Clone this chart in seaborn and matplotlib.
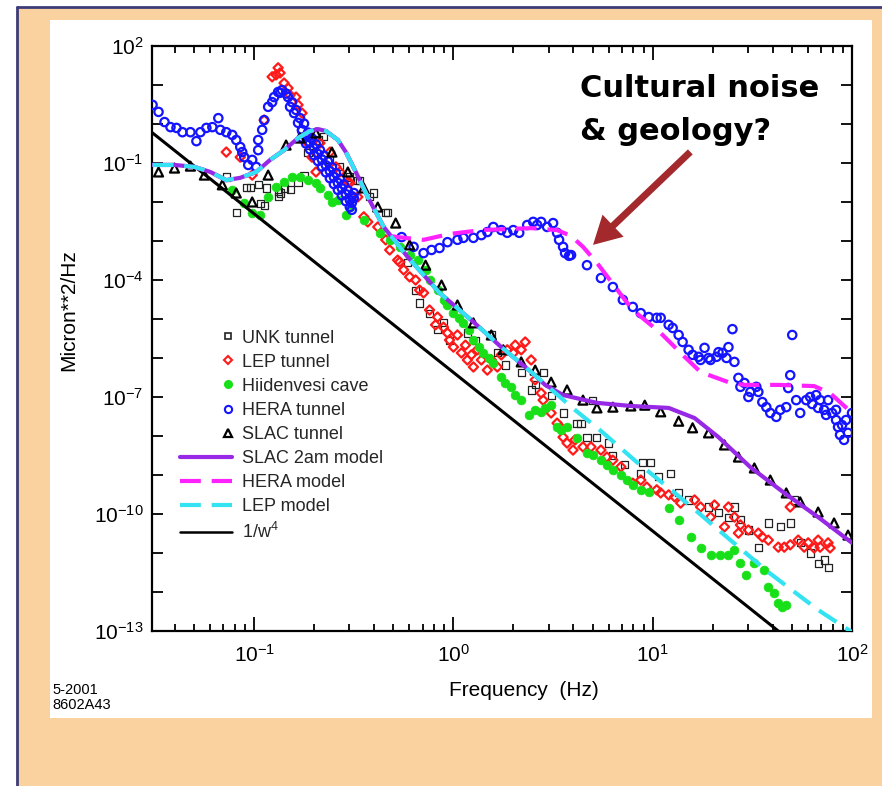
import numpy as np
import matplotlib
matplotlib.use("Agg")
import matplotlib.pyplot as plt
import seaborn as sns
from matplotlib.lines import Line2D
from matplotlib.patches import Rectangle
from matplotlib.legend_handler import HandlerLine2D
from matplotlib.ticker import FixedLocator, LogFormatterSciNotation, LogLocator, NullFormatter

# ---------------- data (log10 of frequency [Hz] and of PSD [micron^2/Hz]) -------------
unk_lf = [-1.14,-1.09,-1.04,-1.02,-0.98,-0.97,-0.95,-0.94,-0.88,-0.88,-0.87,-0.85,-0.82,-0.78,-0.75,
          -0.73,-0.68,-0.65,-0.62,-0.57,-0.52,-0.48,-0.47,-0.42,-0.40,-0.34,-0.33,-0.23,-0.19,-0.17,
          -0.12,-0.08,-0.05,-0.02,0.07,0.11,0.19,0.22,0.26,0.34,0.39,0.41,0.45,0.49,0.55,
          0.62,0.64,0.67,0.70,0.72,0.78,0.80,0.86,0.94,0.95,0.99,1.03,1.09,1.13,1.18,
          1.28,1.33,1.38,1.41,1.44,1.48,1.53,1.58,1.64,1.69,1.71,1.74,1.79,1.83,1.86,1.88]
unk_lp = [-1.36,-2.28,-1.62,-1.62,-1.56,-2.03,-2.08,-1.64,-1.74,-1.87,-1.77,-1.64,-1.69,-1.51,-1.31,
          -0.74,-0.41,-0.33,-0.92,-1.10,-1.36,-1.44,-1.44,-1.87,-1.77,-2.26,-2.28,-3.56,-4.26,-4.59,
          -4.85,-5.28,-5.10,-5.54,-5.36,-5.54,-5.41,-5.87,-6.18,-6.38,-6.82,-6.69,-6.38,-6.95,-7.41,
          -7.67,-7.67,-8.03,-7.08,-8.03,-8.18,-8.49,-8.74,-8.95,-8.69,-8.69,-9.05,-8.95,-9.44,-9.64,
          -9.82,-9.97,-10.08,-9.82,-10.15,-10.41,-10.85,-10.23,-10.33,-10.23,-9.64,-10.74,-11.00,-11.26,-11.18,-11.38]

lep_lf = [-1.14,-1.07,-1.01,-0.95,-0.91,-0.89,-0.88,-0.87,-0.85,-0.83,
          -0.82,-0.79,-0.78,-0.76,-0.73,-0.71,-0.69,-0.67,-0.62,-0.59,
          -0.57,-0.53,-0.52,-0.48,-0.45,-0.43,-0.38,-0.34,-0.32,-0.28,
          -0.27,-0.25,-0.22,-0.19,-0.17,-0.15,-0.12,-0.09,-0.08,-0.05,
          -0.03,-0.02,0.00,0.02,0.04,0.06,0.07,0.09,0.10,0.12,
          0.14,0.17,0.19,0.22,0.24,0.27,0.30,0.31,0.34,0.36,
          0.39,0.41,0.44,0.45,0.49,0.52,0.54,0.55,0.57,0.60,
          0.61,0.65,0.69,0.74,0.77,0.80,0.84,0.90,0.94,0.97,
          1.02,1.04,1.08,1.11,1.14,1.21,1.24,1.29,1.31,1.36,
          1.38,1.41,1.43,1.44,1.48,1.53,1.55,1.58,1.63,1.66,
          1.69,1.69,1.73,1.76,1.78,1.81,1.83,1.84,1.88,1.89]
lep_lp = [-0.72,-0.85,-1.31,0.10,1.21,1.26,1.44,1.31,1.05,0.92,
          0.74,0.69,0.49,0.28,-0.49,-0.85,-1.23,-0.49,-0.72,-1.10,
          -1.23,-1.49,-1.51,-1.87,-2.38,-2.51,-2.64,-2.97,-3.23,-3.49,
          -3.54,-3.74,-3.92,-4.00,-4.26,-4.33,-4.77,-5.15,-4.95,-5.21,
          -5.36,-5.54,-5.72,-5.41,-5.87,-5.67,-6.05,-5.92,-6.23,-5.79,
          -6.05,-6.31,-6.05,-6.23,-5.92,-5.79,-5.87,-5.67,-5.79,-5.59,
          -6.05,-6.56,-6.90,-7.08,-7.41,-7.67,-7.79,-8.03,-8.18,-8.36,
          -8.10,-8.28,-8.28,-8.36,-8.54,-8.62,-8.79,-9.21,-9.13,-9.31,
          -9.38,-9.46,-9.51,-9.56,-9.72,-9.64,-9.82,-10.08,-9.77,-10.33,
          -9.82,-10.08,-10.49,-10.28,-10.41,-10.49,-10.59,-10.67,-10.85,-10.85,
          -9.82,-10.79,-10.67,-10.85,-10.74,-10.87,-10.67,-10.85,-10.74,-10.87]

hii_lf = [-1.11,-1.05,-1.01,-0.97,-0.93,-0.89,-0.85,-0.81,-0.77,-0.73,
          -0.69,-0.67,-0.63,-0.61,-0.58,-0.54,-0.52,-0.45,-0.37,-0.32,
          -0.27,-0.22,-0.18,-0.14,-0.12,-0.08,-0.05,-0.03,0.00,0.03,
          0.05,0.08,0.10,0.13,0.15,0.18,0.20,0.24,0.26,0.29,
          0.31,0.34,0.38,0.41,0.44,0.46,0.49,0.52,0.54,0.57,
          0.62,0.67,0.70,0.74,0.77,0.80,0.84,0.87,0.90,0.94,
          0.98,1.08,1.13,1.19,1.24,1.29,1.34,1.38,1.41,1.44,
          1.47,1.51,1.56,1.58,1.61,1.63,1.65,1.67]
hii_lp = [-1.69,-2.03,-2.28,-2.33,-1.87,-1.62,-1.49,-1.36,-1.36,-1.44,
          -1.51,-1.64,-1.82,-2.00,-1.95,-2.33,-2.13,-2.46,-2.79,-2.97,
          -3.15,-3.36,-3.49,-3.74,-4.00,-4.26,-4.51,-4.64,-4.85,-4.97,
          -5.10,-5.28,-5.54,-5.72,-5.87,-6.00,-6.13,-6.49,-6.64,-6.74,
          -6.95,-7.08,-7.46,-7.33,-7.38,-7.28,-7.21,-7.77,-7.85,-7.77,
          -8.05,-8.44,-8.49,-8.62,-8.74,-8.87,-9.00,-9.13,-9.26,-9.38,
          -9.44,-9.85,-10.15,-10.59,-10.87,-11.05,-11.05,-11.05,-10.92,-11.26,
          -11.56,-11.26,-11.44,-11.87,-12.03,-12.28,-12.38,-12.33]

hera_lf = [-1.51,-1.48,-1.45,-1.42,-1.39,-1.36,-1.32,-1.29,-1.27,-1.24,
           -1.21,-1.18,-1.17,-1.14,-1.11,-1.09,-1.07,-1.06,-1.05,-1.03,
           -1.01,-0.99,-0.98,-0.98,-0.96,-0.95,-0.93,-0.90,-0.88,-0.86,
           -0.83,-0.82,-0.80,-0.78,-0.76,-0.73,
           -0.91,-0.87,-0.84,-0.81,-0.79,-0.77,
           -0.76,-0.74,-0.72,-0.70,-0.68,-0.66,-0.64,-0.62,-0.60,-0.58,-0.56,-0.54,-0.52,-0.51,
           -0.75,-0.73,-0.71,-0.69,-0.67,-0.65,-0.63,-0.61,-0.59,-0.57,-0.55,-0.53,-0.51,-0.50,
           -0.76,-0.74,-0.72,-0.70,-0.68,-0.66,-0.64,-0.62,-0.60,-0.58,-0.56,-0.54,-0.52,-0.51,
           -0.50,-0.26,-0.20,-0.15,-0.11,-0.07,-0.03,0.02,0.05,0.10,
           0.14,0.17,0.20,0.24,0.27,0.30,0.33,0.37,0.40,0.42,
           0.44,0.47,0.50,0.52,0.53,0.55,0.56,0.58,0.59,0.67,
           0.74,0.80,0.85,0.90,
           0.94,0.98,1.02,1.04,1.08,1.10,1.13,1.15,1.18,1.20,
           1.23,1.24,1.26,1.28,1.29,1.32,1.33,1.35,1.37,1.38,
           1.40,1.41,1.43,1.44,1.46,1.48,1.49,1.52,1.53,1.55,
           1.57,1.59,1.62,1.64,1.67,1.68,1.69,1.70,1.72,1.74,
           1.77,1.79,1.80,1.82,1.83,1.84,1.86,1.87,1.88,1.90,
           1.92,1.92,1.93,1.94,1.95,1.96,1.97,1.98,2.00]
hera_lp = [0.49,0.31,0.05,-0.08,-0.10,-0.21,-0.21,-0.44,-0.21,-0.10,
           -0.08,0.15,-0.15,-0.21,-0.28,-0.41,-0.59,-0.72,-0.85,-1.05,
           -0.92,-1.10,-0.67,-0.41,-0.15,0.10,0.44,0.69,0.82,0.87,
           0.69,0.44,0.28,0.03,-0.15,-0.33,
           0.56,0.80,0.78,0.56,0.36,0.15,
           -0.17,-0.32,-0.47,-0.62,-0.77,-0.91,-1.06,-1.21,-1.36,-1.51,-1.65,-1.80,-1.95,-2.02,
           0.01,-0.22,-0.37,-0.52,-0.67,-0.81,-0.96,-1.11,-1.26,-1.41,-1.55,-1.70,-1.85,-1.90,
           -0.35,-0.50,-0.65,-0.80,-0.95,-1.09,-1.24,-1.39,-1.54,-1.69,-1.83,-1.98,-2.13,-2.20,
           -1.77,-2.90,-3.15,-3.31,-3.23,-3.18,-3.03,-2.97,-2.92,-2.92,
           -2.85,-2.77,-2.64,-2.72,-2.79,-2.72,-2.79,-2.59,-2.51,-2.59,
           -2.51,-2.64,-2.54,-2.79,-2.97,-3.15,-3.31,-3.38,-3.36,-3.62,
           -3.95,-4.18,-4.51,-4.69,
           -4.85,-4.95,-4.97,-4.97,-5.15,-5.23,-5.41,-5.59,-5.79,-5.92,
           -5.97,-6.05,-5.74,-6.00,-6.05,-5.97,-5.85,-5.87,-6.00,-5.72,
           -5.26,-6.10,-6.51,-6.74,-6.64,-7.00,-6.87,-6.74,-6.87,-7.13,
           -7.26,-7.41,-7.51,-7.33,-7.26,-6.77,-6.44,-5.41,-7.08,-7.41,
           -7.08,-7.00,-7.18,-6.95,-7.28,-7.08,-7.33,-7.46,-7.08,-7.41,
           -7.59,-7.33,-7.77,-7.97,-7.72,-8.10,-7.59,-7.92,-7.41]

slac_lf = [-1.48,-1.40,-1.32,-1.25,-1.16,-1.09,-1.01,-0.93,-0.84,-0.77,
           -0.69,-0.61,-0.53,-0.45,-0.38,-0.29,-0.22,-0.14,-0.06,0.02,
           0.10,0.19,0.25,0.34,0.41,0.49,0.57,0.65,0.72,0.80,
           0.89,0.96,1.04,1.13,1.20,1.28,1.36,1.43,1.51,1.59,
           1.67,1.74,1.83,1.91,1.98]
slac_lp = [-1.23,-1.13,-1.08,-1.31,-1.56,-1.77,-2.00,-1.31,-0.54,-0.36,
           -0.23,-0.72,-1.23,-1.64,-2.13,-2.54,-3.10,-3.62,-4.13,-4.64,
           -5.10,-5.41,-5.79,-6.10,-6.31,-6.62,-6.82,-7.08,-7.28,-7.26,
           -7.23,-7.21,-7.38,-7.62,-7.79,-7.92,-8.23,-8.54,-8.82,-9.13,
           -9.46,-9.69,-9.95,-10.23,-10.54]

slac_model_lf = [-1.51,-1.40,-1.30,-1.22,-1.14,-1.07,-0.99,-0.92,-0.85,-0.78,-0.72,-0.68,-0.64,-0.58,
                 -0.54,-0.49,-0.43,-0.35,-0.23,-0.07,0.09,0.24,0.39,0.46,0.55,0.72,0.89,1.08,1.21,
                 1.33,1.49,1.66,1.83,2.00]
slac_model_lp = [-1.05,-1.05,-1.10,-1.23,-1.44,-1.38,-1.23,-0.92,-0.67,-0.36,-0.18,-0.13,-0.18,-0.41,
                 -0.72,-1.23,-1.87,-2.64,-3.41,-4.33,-5.03,-5.72,-6.36,-6.69,-6.95,-7.15,-7.23,-7.28,-7.54,
                 -8.03,-8.80,-9.46,-10.08,-10.74]

hera_model_lf = [-1.51,-1.40,-1.30,-1.22,-1.14,-1.07,-0.99,-0.92,-0.85,-0.78,-0.72,-0.68,-0.64,-0.58,
                 -0.54,-0.49,-0.43,-0.35,-0.32,-0.28,-0.15,-0.02,0.14,0.39,0.52,0.59,0.65,0.72,0.85,
                 0.90,1.04,1.16,1.24,1.38,1.46,1.63,1.81,1.89,2.00]
hera_model_lp = [-1.05,-1.05,-1.10,-1.23,-1.44,-1.38,-1.23,-0.92,-0.67,-0.36,-0.18,-0.13,-0.18,-0.41,
                 -0.72,-1.23,-1.87,-2.64,-2.87,-2.90,-2.97,-2.82,-2.72,-2.67,-2.72,-2.87,-3.15,-3.56,-4.44,
                 -4.77,-5.36,-5.97,-6.36,-6.62,-6.69,-6.69,-6.72,-6.90,-7.41]

lep_model_lf = [-1.51,-1.40,-1.30,-1.22,-1.14,-1.07,-0.99,-0.92,-0.85,-0.78,-0.72,-0.68,-0.64,-0.58,
                -0.54,-0.49,-0.43,-0.35,-0.23,-0.07,0.09,0.24,0.39,0.60,0.74,0.92,1.08,1.23,1.33,
                1.58,1.83,2.00]
lep_model_lp = [-1.05,-1.05,-1.10,-1.23,-1.44,-1.38,-1.23,-0.92,-0.67,-0.36,-0.18,-0.13,-0.18,-0.41,
                -0.72,-1.23,-1.87,-2.64,-3.41,-4.33,-5.03,-5.72,-6.36,-7.29,-7.87,-8.67,-9.33,-9.97,-10.41,
                -11.49,-12.46,-13.03]

w4_lf = [-1.51, 1.63]
w4_lp = [-0.23, -13.0]

labels = ["UNK tunnel", "LEP tunnel", "Hiidenvesi cave", "HERA tunnel", "SLAC tunnel",
          "SLAC 2am model", "HERA model", "LEP model", "1/w$^4$"]

# ---------------- styling ---------------------------------------------------------------
sns.set_theme(style="white")
plt.rcParams['font.family'] = ['Liberation Sans', 'DejaVu Sans']
plt.rcParams['mathtext.default'] = 'regular'

C_UNK, C_LEP, C_HII, C_HERA, C_SLAC = "#222222", "#FF1A1A", "#18E018", "#1414FF", "black"
C_SLACM, C_HERAM, C_LEPM = "#9628E6", "#FF22FF", "#33E3F2"
PEACH, NAVY, ARROW = "#FAD2A0", "#3C3C78", "#A3292D"

fig = plt.figure(figsize=(8.82, 7.86), dpi=100, facecolor="white")
W, H = 882.0, 786.0
fig.add_artist(Rectangle((17/W, 0), 1 - 17/W, 1 - 7/H, transform=fig.transFigure,
                         facecolor=PEACH, edgecolor="none", zorder=-5))
fig.add_artist(Line2D([17/W, 17/W], [0, 1 - 7/H], transform=fig.transFigure, color=NAVY, lw=2))
fig.add_artist(Line2D([17/W, 1], [1 - 7/H, 1 - 7/H], transform=fig.transFigure, color=NAVY, lw=2))
fig.add_artist(Rectangle((50/W, 1 - 718/H), (872 - 50)/W, (718 - 20)/H, transform=fig.transFigure,
                         facecolor="white", edgecolor="none", zorder=-4))

ax = fig.add_axes([152/W, 1 - 631/H, 700/W, 585/H])
ax.set_facecolor("white")
ax.set_xscale("log")
ax.set_yscale("log")

def scat(lf, lp, **kw):
    sns.scatterplot(x=10 ** np.array(lf), y=10 ** np.array(lp), ax=ax, legend=False, **kw)

scat(unk_lf, unk_lp, marker="s", s=26, facecolor="none", edgecolor=C_UNK, linewidth=0.9, zorder=3)
scat(lep_lf, lep_lp, marker="D", s=22, facecolor="none", edgecolor=C_LEP, linewidth=1.6, zorder=3)
scat(hii_lf, hii_lp, marker="o", s=40, facecolor=C_HII, edgecolor=C_HII, linewidth=0.5, zorder=3)
scat(hera_lf, hera_lp, marker="o", s=36, facecolor="none", edgecolor=C_HERA, linewidth=1.6, zorder=4)
scat(slac_lf, slac_lp, marker="^", s=42, facecolor="none", edgecolor=C_SLAC, linewidth=1.6, zorder=4)

def line(lf, lp, **kw):
    sns.lineplot(x=10 ** np.array(lf), y=10 ** np.array(lp), ax=ax, legend=False,
                 estimator=None, sort=False, **kw)

dash = (0, (5, 2.6))
line(slac_model_lf, slac_model_lp, color=C_SLACM, linewidth=3, zorder=5)
line(hera_model_lf, hera_model_lp, color=C_HERAM, linewidth=3, linestyle=dash, zorder=6)
line(lep_model_lf, lep_model_lp, color=C_LEPM, linewidth=3, linestyle=dash, zorder=7)
line(w4_lf, w4_lp, color="black", linewidth=2.2, zorder=5)

ax.set_xlim(0.0307, 100)
ax.set_ylim(1e-13, 1e2)

ax.xaxis.set_major_locator(LogLocator(base=10, numticks=20))
ax.xaxis.set_minor_locator(LogLocator(base=10, subs=np.arange(2, 10), numticks=20))
ax.xaxis.set_minor_formatter(NullFormatter())
ax.yaxis.set_major_locator(FixedLocator([1e2, 1e-1, 1e-4, 1e-7, 1e-10, 1e-13]))
ax.yaxis.set_major_formatter(LogFormatterSciNotation())
ax.yaxis.set_minor_locator(FixedLocator([10.0 ** k for k in range(-13, 3)]))
ax.yaxis.set_minor_formatter(NullFormatter())
ax.tick_params(which="both", direction="in", top=True, right=True, bottom=True, left=True,
               width=1.3, color="black", labelsize=15, labelcolor="black")
ax.tick_params(axis="x", which="major", length=10, pad=9)
ax.tick_params(axis="x", which="minor", length=5)
ax.tick_params(axis="y", which="both", length=8, pad=6)
for sp in ax.spines.values():
    sp.set_color("black")
    sp.set_linewidth(1.6)
ax.grid(False)

ax.set_xlabel("Frequency  (Hz)", fontsize=15, color="black")
ax.xaxis.set_label_coords(0.531, -0.085)
ax.set_ylabel("Micron**2/Hz", fontsize=15, color="black")
ax.yaxis.set_label_coords(-0.106, 0.549)

# legend
class RightMarker(HandlerLine2D):
    def get_xdata(self, legend, xdescent, ydescent, width, height, fontsize):
        x = -xdescent + width - 0.22 * fontsize
        return np.array([x, x]), np.array([x])

handles = [
    Line2D([], [], ls="none", marker="s", mfc="none", mec=C_UNK, ms=4.8, mew=1.2),
    Line2D([], [], ls="none", marker="D", mfc="none", mec=C_LEP, ms=4.2, mew=1.5),
    Line2D([], [], ls="none", marker="o", mfc=C_HII, mec=C_HII, ms=5.5),
    Line2D([], [], ls="none", marker="o", mfc="none", mec=C_HERA, ms=5.2, mew=1.5),
    Line2D([], [], ls="none", marker="^", mfc="none", mec="black", ms=5.5, mew=1.6),
    Line2D([], [], color=C_SLACM, lw=3),
    Line2D([], [], color=C_HERAM, lw=3, ls=dash),
    Line2D([], [], color=C_LEPM, lw=3, ls=dash),
    Line2D([], [], color="black", lw=1.8),
]
hmap = {h: RightMarker() for h in handles[:5]}
ax.legend(handles, labels, handler_map=hmap, loc="upper left", bbox_to_anchor=(0.04, 0.515),
          frameon=False, fontsize=13, handlelength=2.9, handletextpad=0.55, labelspacing=0.39,
          borderpad=0, borderaxespad=0)

# annotation
ax.text(0.611, 0.913, "Cultural noise", transform=ax.transAxes, fontsize=22, fontweight="bold",
        family=["DejaVu Sans"], color="black", ha="left", va="baseline")
ax.text(0.611, 0.839, "& geology?", transform=ax.transAxes, fontsize=22, fontweight="bold",
        family=["DejaVu Sans"], color="black", ha="left", va="baseline")
ax.annotate("", xy=(0.630, 0.660), xytext=(0.769, 0.819), xycoords="axes fraction",
            textcoords="axes fraction",
            arrowprops=dict(arrowstyle="simple,head_length=1.0,head_width=1.1,tail_width=0.25",
                            mutation_scale=20, fc=ARROW, ec="none", shrinkA=0, shrinkB=0),
            zorder=8)

fig.text(52/W, 1 - 683/H, "5-2001\n8602A43", fontsize=10.5, ha="left", va="top",
         linespacing=1.05, color="black")

fig.savefig("out.png", dpi=100, facecolor=fig.get_facecolor())
